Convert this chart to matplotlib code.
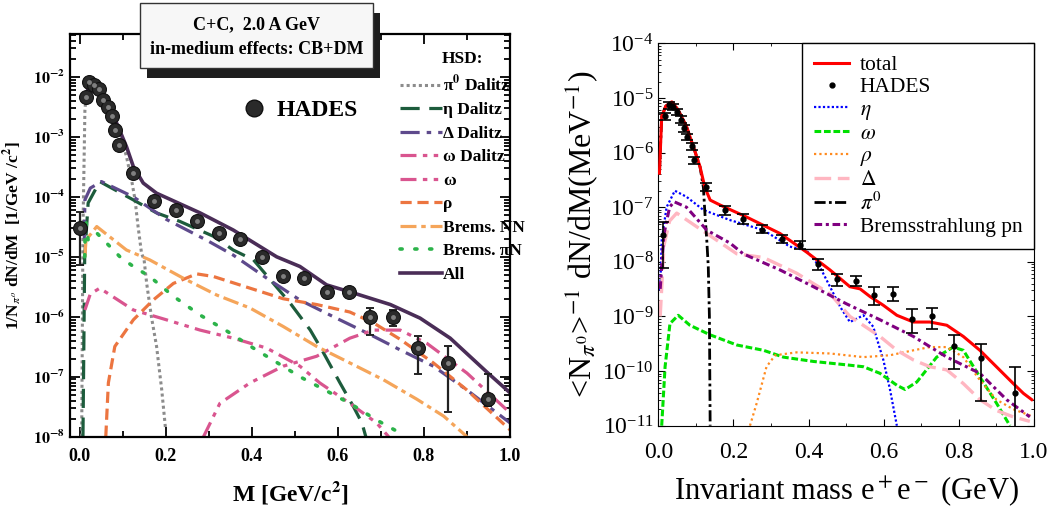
import math
import matplotlib
matplotlib.use("Agg")
import matplotlib.pyplot as plt
from matplotlib.patches import Rectangle
from matplotlib.lines import Line2D
from matplotlib.ticker import FuncFormatter, LogLocator, MultipleLocator

plt.rcParams['font.family'] = ['Liberation Serif', 'DejaVu Serif']
plt.rcParams['mathtext.fontset'] = 'stix'

# ---------------- left panel data (HSD, 1/GeV/c^2) ----------------
hades_l_x = [0.0, 0.015, 0.022, 0.033, 0.045, 0.055, 0.067, 0.076, 0.082, 0.092, 0.125, 0.173,
             0.223, 0.274, 0.324, 0.373, 0.423, 0.473, 0.522, 0.574, 0.625, 0.674, 0.729, 0.787,
             0.857, 0.948]
hades_l_y = [3.0e-5, 4.7e-3, 8.3e-3, 7.4e-3, 6.2e-3, 4.1e-3, 3.2e-3, 2.2e-3, 1.3e-3, 7.4e-4,
             2.5e-4, 8.5e-5, 6.0e-5, 3.9e-5, 2.5e-5, 2.0e-5, 1.0e-5, 4.7e-6, 4.4e-6, 2.6e-6,
             2.6e-6, 1.0e-6, 1.0e-6, 3.0e-7, 1.7e-7, 4.2e-8]
hades_l_hi = [5.6e-5, 4.7e-3, 8.3e-3, 7.4e-3, 6.2e-3, 4.1e-3, 3.2e-3, 2.2e-3, 1.3e-3, 7.4e-4,
              2.5e-4, 8.5e-5, 6.0e-5, 3.9e-5, 2.5e-5, 2.0e-5, 1.0e-5, 4.7e-6, 4.4e-6, 2.6e-6,
              2.6e-6, 1.4e-6, 1.3e-6, 4.7e-7, 3.2e-7, 1.1e-7]
hades_l_lo = [7.4e-6, 4.7e-3, 8.3e-3, 7.4e-3, 6.2e-3, 4.1e-3, 3.2e-3, 2.2e-3, 1.3e-3, 7.4e-4,
              2.5e-4, 8.5e-5, 6.0e-5, 3.9e-5, 2.5e-5, 2.0e-5, 1.0e-5, 4.7e-6, 4.4e-6, 2.6e-6,
              2.6e-6, 5.0e-7, 7.0e-7, 1.1e-7, 2.6e-8, 3.3e-8]

all_x = [0.012, 0.02, 0.047, 0.07, 0.093, 0.109, 0.125, 0.148, 0.179, 0.28, 0.357, 0.458, 0.512,
         0.574, 0.636, 0.722, 0.791, 0.861, 0.946, 1.0]
all_y = [4.0e-3, 6.5e-3, 5.0e-3, 3.2e-3, 1.3e-3, 6.9e-4, 3.2e-4, 1.7e-4, 1.15e-4, 5.4e-5, 2.8e-5,
         1.0e-5, 6.9e-6, 3.4e-6, 2.5e-6, 1.6e-6, 9.5e-7, 4.4e-7, 1.2e-7, 5.4e-8]

pi0d_x = [0.005, 0.008, 0.0125, 0.017, 0.025, 0.047, 0.07, 0.093, 0.109, 0.121, 0.129, 0.136,
          0.144, 0.15, 0.156, 0.167, 0.179, 0.191, 0.2]
pi0d_y = [1e-8, 3e-5, 2.8e-3, 6.3e-3, 6.8e-3, 5.0e-3, 3.2e-3, 1.26e-3, 4.7e-4, 1.9e-4, 8.9e-5,
          3.2e-5, 1.15e-5, 8.9e-6, 3.6e-6, 1.0e-6, 3.2e-7, 6.0e-8, 1.3e-8]

etad_x = [0.008, 0.012, 0.02, 0.047, 0.125, 0.179, 0.233, 0.311, 0.357, 0.404, 0.489, 0.536,
          0.563, 0.605, 0.636, 0.656, 0.665]
etad_y = [1e-8, 1e-5, 7.9e-5, 1.8e-4, 8.9e-5, 5.4e-5, 3.9e-5, 2.2e-5, 1.3e-5, 8.9e-6, 1.7e-6,
          6.0e-7, 2.8e-7, 7.9e-8, 3.2e-8, 1.7e-8, 1.0e-8]

deld_x = [0.011, 0.0125, 0.025, 0.051, 0.125, 0.202, 0.295, 0.357, 0.435, 0.512, 0.59, 0.667,
          0.745, 0.822, 0.9, 1.0]
deld_y = [2e-5, 8.9e-5, 1.4e-4, 1.8e-4, 1.0e-4, 4.2e-5, 1.9e-5, 1.07e-5, 4.4e-6, 1.9e-6, 1.0e-6,
          5.4e-7, 2.8e-7, 1.5e-7, 6.0e-8, 1.7e-8]

omd_x = [0.0125, 0.025, 0.047, 0.125, 0.202, 0.28, 0.357, 0.435, 0.512, 0.558, 0.628, 0.69, 0.718]
omd_y = [1.3e-6, 2.4e-6, 3.0e-6, 1.3e-6, 8.9e-7, 6.0e-7, 4.4e-7, 3.0e-7, 1.5e-7, 7.9e-8, 3.6e-8,
         1.7e-8, 1.0e-8]

om_x = [0.288, 0.326, 0.396, 0.473, 0.551, 0.628, 0.683, 0.745, 0.807, 0.9, 1.0]
om_y = [1e-8, 3.6e-8, 7.9e-8, 1.5e-7, 2.2e-7, 4.4e-7, 6.0e-7, 6.0e-7, 3.6e-7, 1.15e-7, 2.5e-8]

rho_x = [0.061, 0.067, 0.082, 0.125, 0.171, 0.218, 0.272, 0.311, 0.396, 0.473, 0.551, 0.628,
         0.683, 0.745, 0.822, 0.9, 1.0]
rho_y = [1e-8, 7.9e-8, 3.2e-7, 8.9e-7, 1.9e-6, 3.6e-6, 5.2e-6, 4.7e-6, 3.0e-6, 2.0e-6, 1.6e-6,
         1.2e-6, 7.9e-7, 4.2e-7, 1.7e-7, 6.0e-8, 1.3e-8]

bnn_x = [0.0125, 0.015, 0.04, 0.109, 0.163, 0.241, 0.319, 0.396, 0.473, 0.551, 0.628, 0.706,
         0.784, 0.846, 0.9]
bnn_y = [1e-5, 1.9e-5, 3.2e-5, 1.3e-5, 8.9e-6, 4.4e-6, 2.3e-6, 1.4e-6, 6.9e-7, 3.2e-7, 1.7e-7,
         8.9e-8, 4.2e-8, 2.2e-8, 1.0e-8]

bpin_x = [0.012, 0.014, 0.02, 0.04, 0.094, 0.125, 0.163, 0.218, 0.28, 0.342, 0.404, 0.466, 0.512,
          0.574, 0.628, 0.69, 0.745]
bpin_y = [1.0e-5, 4.5e-5, 1.9e-5, 2.5e-5, 1.0e-5, 6.9e-6, 4.7e-6, 2.2e-6, 1.07e-6, 5.8e-7,
          3.0e-7, 1.6e-7, 1.0e-7, 5.8e-8, 3.6e-8, 1.9e-8, 1.15e-8]

# ---------------- right panel data (MeV^-1) ----------------
hades_r_x = [0.012, 0.018, 0.029, 0.04, 0.049, 0.06, 0.068, 0.077, 0.089, 0.096, 0.127, 0.178,
             0.226, 0.275, 0.328, 0.377, 0.426, 0.475, 0.525, 0.574, 0.626, 0.674, 0.729, 0.788,
             0.858, 0.949]
hades_r_y = [3.1e-8, 4.6e-6, 7.4e-6, 6.9e-6, 5.6e-6, 4.0e-6, 2.8e-6, 1.95e-6, 1.3e-6, 7.2e-7,
             2.3e-7, 8.9e-8, 6.0e-8, 3.9e-8, 2.6e-8, 2.0e-8, 9.3e-9, 4.8e-9, 4.5e-9, 2.5e-9,
             2.6e-9, 9.1e-10, 1.0e-9, 2.9e-10, 1.7e-10, 3.9e-11]
hades_r_hi = [5.4e-8, 5.3e-6, 8.5e-6, 7.9e-6, 6.4e-6, 4.6e-6, 3.2e-6, 2.2e-6, 1.5e-6, 8.3e-7,
              2.8e-7, 1.05e-7, 7.4e-8, 4.7e-8, 3.1e-8, 2.4e-8, 1.15e-8, 6.0e-9, 5.5e-9, 3.4e-9,
              3.4e-9, 1.35e-9, 1.4e-9, 4.6e-10, 3.1e-10, 1.2e-10]
hades_r_lo = [7.6e-9, 3.9e-6, 6.4e-6, 6.0e-6, 4.9e-6, 3.5e-6, 2.4e-6, 1.7e-6, 1.1e-6, 6.2e-7,
              2.0e-7, 7.2e-8, 5.0e-8, 3.3e-8, 2.2e-8, 1.7e-8, 7.2e-9, 3.6e-9, 3.6e-9, 1.6e-9,
              1.9e-9, 5.0e-10, 5.8e-10, 1.1e-10, 2.8e-11, 5e-12]

tot_x = [0.003, 0.009, 0.02, 0.036, 0.053, 0.075, 0.093, 0.111, 0.124, 0.138, 0.164, 0.235, 0.324,
         0.395, 0.457, 0.51, 0.537, 0.564, 0.599, 0.635, 0.679, 0.723, 0.768, 0.812, 0.856, 0.9,
         0.945, 0.972, 0.994]
tot_y = [4.2e-7, 4.6e-6, 7.1e-6, 8.5e-6, 6.0e-6, 3.0e-6, 1.3e-6, 5.5e-7, 2.3e-7, 1.35e-7, 1.1e-7,
         6.6e-8, 3.3e-8, 1.5e-8, 7.1e-9, 3.5e-9, 3.2e-9, 2.3e-9, 1.6e-9, 1.05e-9, 7.9e-10,
         7.9e-10, 6.9e-10, 4.3e-10, 2.4e-10, 1.2e-10, 5.9e-11, 3.9e-11, 3.0e-11]

eta_x = [0.005, 0.009, 0.022, 0.044, 0.075, 0.12, 0.191, 0.28, 0.35, 0.395, 0.43, 0.457, 0.484,
         0.51, 0.546, 0.572, 0.599, 0.617, 0.635]
eta_y = [3e-9, 2.5e-8, 1.0e-7, 2.0e-7, 1.55e-7, 8.9e-8, 5.8e-8, 3.8e-8, 1.9e-8, 1.6e-8, 8.1e-9,
         3.5e-9, 1.5e-9, 7.9e-10, 1.05e-9, 6.5e-10, 1.6e-10, 4.5e-11, 1.0e-11]

omg_x = [0.009, 0.018, 0.031, 0.053, 0.084, 0.138, 0.209, 0.28, 0.333, 0.413, 0.501, 0.546, 0.59,
         0.635, 0.657, 0.688, 0.741, 0.785, 0.812, 0.856, 0.9, 0.936]
omg_y = [1.0e-11, 1.2e-10, 7.4e-10, 1.05e-9, 6.9e-10, 4.6e-10, 3.0e-10, 2.4e-10, 1.8e-10,
         1.5e-10, 1.3e-10, 1.2e-10, 9.1e-11, 5.5e-11, 4.6e-11, 6.3e-11, 1.8e-10, 2.75e-10,
         2.4e-10, 7.8e-11, 2.6e-11, 1.0e-11]

rhor_x = [0.244, 0.262, 0.288, 0.311, 0.368, 0.457, 0.546, 0.617, 0.679, 0.723, 0.768, 0.812,
          0.856, 0.9, 0.945, 0.994]
rhor_y = [1.0e-11, 2.6e-11, 1.2e-10, 1.95e-10, 2.2e-10, 2.1e-10, 1.8e-10, 1.95e-10, 2.4e-10,
          2.75e-10, 2.75e-10, 1.8e-10, 6.8e-11, 3.0e-11, 2.0e-11, 1.5e-11]

delr_x = [0.005, 0.015, 0.03, 0.049, 0.102, 0.155, 0.209, 0.28, 0.368, 0.457, 0.51, 0.59, 0.635,
          0.679, 0.723, 0.768, 0.812, 0.856, 0.9, 0.945, 0.989]
delr_y = [1.0e-9, 2.0e-8, 5.6e-8, 7.8e-8, 4.4e-8, 2.5e-8, 1.4e-8, 1.2e-8, 6.2e-9, 2.6e-9, 1.0e-9,
          4.3e-10, 2.4e-10, 1.6e-10, 1.2e-10, 1.05e-10, 5.9e-11, 3.0e-11, 1.9e-11, 1.45e-11,
          1.2e-11]

pi0r_x = [0.003, 0.009, 0.02, 0.036, 0.053, 0.075, 0.093, 0.111, 0.12, 0.124, 0.129, 0.133,
          0.136, 0.138]
pi0r_y = [4.2e-7, 4.6e-6, 7.1e-6, 8.5e-6, 6.0e-6, 3.0e-6, 1.3e-6, 5.5e-7, 2.3e-7, 7.8e-8,
          2.5e-8, 8.1e-9, 1.0e-9, 1.0e-11]

brem_x = [0.005, 0.015, 0.03, 0.042, 0.075, 0.129, 0.191, 0.226, 0.324, 0.413, 0.501, 0.59,
          0.679, 0.768, 0.856, 0.927, 0.989]
brem_y = [3.2e-9, 3.2e-8, 1.0e-7, 1.26e-7, 1.0e-7, 3.8e-8, 2.2e-8, 1.4e-8, 7.1e-9, 3.5e-9,
          1.7e-9, 8.7e-10, 4.3e-10, 1.8e-10, 9.1e-11, 3.0e-11, 1.45e-11]

fig = plt.figure(figsize=(10.63, 5.17), dpi=100)

# ================= left panel =================
axl = fig.add_axes([0.0659, 0.1553, 0.4139, 0.7789])
lw = 2.3
axl.plot(pi0d_x, pi0d_y, color='#8c8c8c', lw=2.2, dashes=(1, 1), label=r'π$^\mathbf{0}$ Dalitz')
axl.plot(etad_x, etad_y, color='#1d5c3c', lw=lw, dashes=(6, 3), label='η Dalitz')
axl.plot(deld_x, deld_y, color='#5e4a8c', lw=lw, dashes=(6, 2.2, 1.4, 2.2), label='Δ Dalitz')
axl.plot(omd_x, omd_y, color='#d9558f', lw=lw, dashes=(5, 2, 1.4, 2, 1.4, 2), label='ω Dalitz')
axl.plot(om_x, om_y, color='#d9558f', lw=lw, dashes=(5, 2, 1.4, 2, 1.4, 2), label='ω')
axl.plot(rho_x, rho_y, color='#ec7540', lw=lw, dashes=(3.5, 1.8), label='ρ')
axl.plot(bnn_x, bnn_y, color='#f5a55a', lw=lw, dashes=(5, 1.5, 1.4, 1.5), label='Brems. NN')
axl.plot(bpin_x, bpin_y, color='#2cb34a', lw=2.6, dashes=(0.6, 3.5), dash_capstyle='round',
         label='Brems. πN')
axl.plot(all_x, all_y, color='#4a2d57', lw=2.6, label='All')

yerr_l = [[v - lo for v, lo in zip(hades_l_y, hades_l_lo)],
          [hi - v for v, hi in zip(hades_l_y, hades_l_hi)]]
axl.errorbar(hades_l_x, hades_l_y, yerr=yerr_l, fmt='none', ecolor='#222222', elinewidth=1.6,
             capsize=3, capthick=1.4, zorder=4)
axl.plot(hades_l_x, hades_l_y, 'o', ms=10, mfc='#2a2a2a', mec='#111111', mew=0.8, zorder=5)
axl.plot(hades_l_x, hades_l_y, 'o', ms=3.5, mfc='#8a8a8a', mec='none', alpha=0.9, zorder=6)

axl.set_yscale('log')
axl.set_xlim(-0.022, 1.0)
axl.set_ylim(1e-8, 5.2e-2)
axl.xaxis.set_major_locator(MultipleLocator(0.2))
axl.xaxis.set_minor_locator(MultipleLocator(0.1))
axl.yaxis.set_major_locator(LogLocator(base=10, numticks=20))
axl.yaxis.set_minor_locator(LogLocator(base=10, subs=range(2, 10), numticks=20))
axl.xaxis.set_major_formatter(FuncFormatter(lambda v, p: '%.1f' % v))
axl.yaxis.set_major_formatter(FuncFormatter(lambda v, p: r'$\mathbf{10^{%d}}$' % round(math.log10(v))))
axl.tick_params(which='both', direction='in', top=True, right=True, width=1.3)
axl.tick_params(which='major', length=7, labelsize=11.5)
axl.tick_params(axis='x', which='major', labelsize=13, pad=8)
axl.tick_params(which='minor', length=4)
for lab in axl.get_xticklabels():
    lab.set_fontweight('bold')
for sp in axl.spines.values():
    sp.set_linewidth(1.6)
axl.set_xlabel(r'M [GeV/c$^\mathbf{2}$]', fontsize=17, fontweight='bold', labelpad=10)
axl.set_ylabel(r'1/N$_{\pi^{o}}$ dN/dM  [1/GeV /c$^\mathbf{2}$]', fontsize=12.5,
               fontweight='bold', labelpad=6)

leg = axl.legend(loc='upper left', bbox_to_anchor=(0.735, 0.975), frameon=False, title='HSD:',
                 prop={'weight': 'bold', 'size': 12.5}, handlelength=2.4, handletextpad=0.05,
                 labelspacing=0.42, borderaxespad=0)
leg.get_title().set_fontweight('bold')
leg.get_title().set_fontsize(12.5)
axl.add_artist(leg)
h_had = Line2D([], [], ls='none', marker='o', ms=12, mfc='#2a2a2a', mec='#111111')
axl.legend([h_had], ['HADES'], loc='center left', bbox_to_anchor=(0.37, 0.81), frameon=False,
           prop={'weight': 'bold', 'size': 17}, handlelength=1.0, handletextpad=0.45,
           borderaxespad=0)

# title box with shadow
fig.add_artist(Rectangle((147 / 1063, 1 - 78 / 517), 233 / 1063, 65 / 517,
                         transform=fig.transFigure, facecolor='#1e1e1e', edgecolor='none', zorder=10))
fig.add_artist(Rectangle((140 / 1063, 1 - 68 / 517), 233 / 1063, 65 / 517,
                         transform=fig.transFigure, facecolor='#f7f7f7', edgecolor='#333333',
                         lw=1.0, zorder=11))
fig.text(256.5 / 1063, 1 - 25 / 517, 'C+C,  2.0 A GeV', ha='center', va='center', fontsize=13,
         fontweight='bold', zorder=12)
fig.text(256.5 / 1063, 1 - 50 / 517, 'in-medium effects: CB+DM', ha='center', va='center',
         fontsize=13, fontweight='bold', zorder=12)

# ================= right panel =================
axr = fig.add_axes([0.6193, 0.1766, 0.3534, 0.7396])
axr.plot(tot_x, tot_y, color='red', lw=2.2, label='total', zorder=5)
yerr_r = [[v - lo for v, lo in zip(hades_r_y, hades_r_lo)],
          [hi - v for v, hi in zip(hades_r_y, hades_r_hi)]]
axr.errorbar(hades_r_x, hades_r_y, yerr=yerr_r, fmt='o', color='black', ms=3.5, elinewidth=1.2,
             capsize=4, capthick=1.2, zorder=6)
axr.plot(eta_x, eta_y, color='blue', lw=1.6, ls=(0, (1, 1)), label=r'$\eta$')
axr.plot(omg_x, omg_y, color='#00e000', lw=2.2, ls=(0, (2.2, 0.9)), label=r'$\omega$')
axr.plot(rhor_x, rhor_y, color='#ff8a1e', lw=1.6, ls=(0, (1, 1.4)), label=r'$\rho$')
axr.plot(delr_x, delr_y, color='#ffb6c1', lw=2.4, ls=(0, (5, 2)), label=r'$\Delta$')
axr.plot(pi0r_x, pi0r_y, color='black', lw=2.0, ls=(0, (4, 1.2, 1, 1.2)), label=r'$\pi^0$')
axr.plot(brem_x, brem_y, color='#800080', lw=2.2, ls=(0, (2.5, 1.2, 1, 1.2)),
         label='Bremsstrahlung pn')

axr.set_yscale('log')
axr.set_xlim(0, 1.0)
axr.set_ylim(1e-11, 1e-4)
axr.xaxis.set_major_locator(MultipleLocator(0.2))
axr.xaxis.set_minor_locator(MultipleLocator(0.1))
axr.yaxis.set_major_locator(LogLocator(base=10, numticks=20))
axr.yaxis.set_minor_locator(LogLocator(base=10, subs=range(2, 10), numticks=20))
axr.xaxis.set_major_formatter(FuncFormatter(lambda v, p: '%.1f' % v))
axr.tick_params(which='both', direction='in', top=True, right=True)
axr.tick_params(which='major', length=5, labelsize=17)
axr.tick_params(axis='x', which='major', pad=12)
axr.tick_params(which='minor', length=2.5)
axr.set_xlabel(r'Invariant mass e$^+$e$^-$ (GeV)', fontsize=22, labelpad=8)
axr.set_ylabel(r'<N$_{\pi^0}$>$^{-1}$ dN/dM(MeV$^{-1}$)', fontsize=23, labelpad=2)

h, l = axr.get_legend_handles_labels()
hl = dict(zip(l, h))
hl['HADES'] = Line2D([], [], ls='none', marker='o', ms=3.5, color='black')
order = ['total', 'HADES', r'$\eta$', r'$\omega$', r'$\rho$', r'$\Delta$', r'$\pi^0$',
         'Bremsstrahlung pn']
lg = axr.legend([hl[k] for k in order], order, loc='upper right', borderaxespad=0, fancybox=False,
                framealpha=1, edgecolor='black', fontsize=15.5, handlelength=1.6,
                labelspacing=0.1, handletextpad=0.5, borderpad=0.55)
lg.get_frame().set_linewidth(1.0)

fig.savefig('out.png', dpi=100, facecolor='white')
